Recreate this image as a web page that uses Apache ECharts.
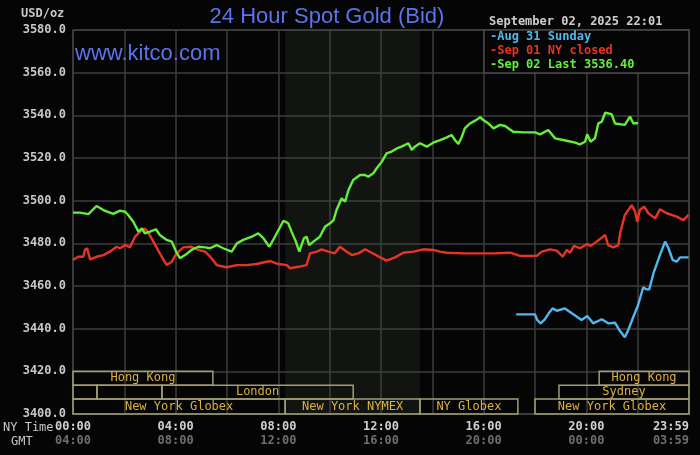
<!DOCTYPE html>
<html>
<head>
<meta charset="utf-8">
<script src="https://cdn.jsdelivr.net/npm/echarts@6/dist/echarts.min.js"></script>
<style>
  html, body { margin:0; padding:0; background:#050505; }
  #chart { width:700px; height:455px; }
</style>
</head>
<body>
<div id="chart"></div>
<script>
// minutes after NY midnight / bid price
var sep02Minutes = [0,16,36,55,71,94,110,122,129,141,153,161,168,180,194,203,219,231,241,250,262,277,293,309,320,336,351,371,383,398,418,433,445,459,472,492,503,511,521,529,540,546,552,562,577,589,601,609,616,628,636,644,655,671,683,690,702,710,722,733,745,757,768,784,792,799,811,827,842,858,874,885,893,901,909,916,928,940,952,959,971,983,998,1010,1029,1053,1080,1092,1111,1127,1154,1174,1185,1197,1202,1210,1220,1228,1236,1244,1259,1267,1290,1302,1310,1321];
var sep02Price = [3494.4,3494.4,3493.7,3497.5,3495.6,3493.8,3495.3,3494.8,3493.3,3490.1,3485.5,3487.0,3484.7,3485.5,3486.6,3483.9,3481.6,3480.8,3476.1,3473.0,3474.5,3476.9,3478.4,3478.1,3477.7,3479.2,3477.7,3476.1,3480.0,3481.6,3483.1,3484.7,3482.4,3478.4,3483.1,3490.6,3489.4,3485.5,3480.8,3476.1,3482.4,3483.1,3479.2,3480.8,3483.1,3487.8,3489.4,3490.9,3495.6,3501.1,3499.5,3505.0,3509.7,3512.0,3512.0,3511.2,3512.8,3515.2,3518.3,3522.2,3523.0,3524.5,3525.3,3526.9,3523.8,3525.3,3526.9,3525.3,3527.2,3528.4,3529.7,3530.8,3528.4,3526.6,3530.0,3533.9,3536.2,3537.5,3539.1,3537.8,3536.2,3533.9,3535.5,3535.0,3532.3,3532.0,3532.0,3531.1,3533.1,3529.2,3528.1,3527.2,3526.4,3527.6,3531.1,3527.6,3529.2,3536.2,3537.0,3541.2,3540.6,3536.2,3535.5,3539.4,3536.2,3536.4];

var sep01Minutes = [0,12,24,28,33,40,55,71,86,102,110,122,133,145,157,168,176,188,203,219,231,242,258,277,293,309,324,336,359,383,406,429,461,480,500,507,527,546,554,570,581,597,612,624,640,652,667,683,698,718,733,753,772,796,819,842,858,874,913,952,983,1022,1045,1084,1096,1115,1131,1145,1154,1162,1171,1185,1202,1210,1224,1244,1251,1263,1275,1279,1290,1306,1310,1314,1319,1325,1335,1345,1361,1372,1388,1411,1427,1439];
var sep01Price = [3472.2,3473.7,3473.7,3476.9,3477.7,3472.5,3473.7,3474.5,3476.1,3478.4,3477.7,3479.2,3478.1,3483.1,3485.5,3487.0,3485.0,3480.8,3475.3,3469.8,3471.4,3475.3,3478.1,3478.4,3476.9,3476.1,3473.0,3469.8,3468.8,3469.8,3469.8,3470.3,3471.7,3470.3,3469.8,3468.3,3469.0,3469.8,3475.3,3476.1,3477.2,3476.1,3475.3,3478.4,3476.1,3474.5,3475.3,3477.2,3475.6,3473.4,3471.9,3473.4,3475.6,3476.1,3477.2,3476.9,3476.1,3475.6,3475.3,3475.3,3475.3,3475.6,3474.1,3474.1,3476.1,3477.2,3476.6,3473.7,3476.9,3475.6,3478.8,3477.7,3479.7,3478.8,3480.8,3483.9,3479.2,3478.1,3479.2,3484.7,3493.3,3497.9,3498.4,3494.8,3490.1,3495.6,3497.2,3494.1,3491.7,3495.9,3494.1,3492.5,3490.9,3493.3];

var aug31Minutes = [1036,1080,1085,1093,1103,1113,1121,1131,1150,1166,1189,1202,1216,1236,1251,1267,1277,1290,1298,1310,1321,1333,1341,1347,1357,1372,1384,1392,1402,1411,1419,1439];
var aug31Price = [3446.7,3446.7,3444.1,3442.5,3444.4,3447.5,3449.5,3448.4,3449.5,3447.2,3444.1,3445.9,3442.5,3444.4,3442.5,3442.8,3439.4,3436.0,3439.4,3445.6,3451.1,3459.4,3458.4,3458.4,3466.0,3474.5,3480.8,3477.7,3472.2,3471.4,3473.4,3473.4];

// x axis tick labels (minutes -> NY / GMT)
var tickMinutes = [0,240,480,720,960,1200,1440];
var nyLabels  = ['00:00','04:00','08:00','12:00','16:00','20:00','23:59'];
var gmtLabels = ['04:00','08:00','12:00','16:00','20:00','00:00','03:59'];

// market sessions: row (0 top), start, end, name
var sessionRow   = [0,0,1,1,1,1,2,2,2,2];
var sessionStart = [0,1230,0,56,208,1136,0,496,811,1080];
var sessionEnd   = [327,1440,56,208,655,1440,496,811,1040,1440];
var sessionName  = ['Hong Kong','Hong Kong','','','London','Sydney','New York Globex','New York NYMEX','NY Globex','New York Globex'];
var rowTop = [3420,3413.5,3407];
var rowBottom = [3413.5,3407,3400];
var nymexPit = [496,811];

function zip(a,b){ return a.map(function(v,i){ return [v,b[i]]; }); }

var sessionData = sessionRow.map(function(r,i){
  return [sessionStart[i], sessionEnd[i], rowTop[r], rowBottom[r], sessionName[i]];
});

var mono = 'DejaVu Sans Mono';
var chart = echarts.init(document.getElementById('chart'));

chart.setOption({
  backgroundColor:'#050505',
  animation:false,
  grid:{left:73, right:11, top:30, bottom:41, outerBoundsMode:'none', containLabel:false,
    show:true, borderColor:'#4a4a4a', borderWidth:1.5},
  xAxis:{
    type:'value', min:0, max:1440, interval:120,
    axisLine:{show:false}, axisTick:{show:false},
    splitLine:{lineStyle:{color:'#3c3c3c', width:1.5}},
    axisLabel:{
      margin:6, alignMaxLabel:'right',
      formatter:function(v){
        var i = tickMinutes.indexOf(v);
        if(i < 0) return '';
        return '{a|'+nyLabels[i]+'}\n{b|'+gmtLabels[i]+'}';
      },
      rich:{
        a:{fontFamily:mono, fontWeight:'bold', fontSize:12, color:'#d0d0d0', lineHeight:14},
        b:{fontFamily:mono, fontWeight:'bold', fontSize:12, color:'#6e6e6e', lineHeight:14}
      }
    }
  },
  yAxis:{
    type:'value', min:3400, max:3580, interval:20,
    axisLine:{show:false}, axisTick:{show:false},
    splitLine:{lineStyle:{color:'#3c3c3c', width:1.5}},
    axisLabel:{margin:7, fontFamily:mono, fontWeight:'bold', fontSize:12, color:'#c8c8c8',
      formatter:function(v){ return v.toFixed(1); }}
  },
  graphic:[
    {type:'text', x:327, y:17, style:{text:'24 Hour Spot Gold (Bid)', fontFamily:'Liberation Sans', fontSize:22, fill:'#5a74ee', textAlign:'center', textVerticalAlign:'middle'}},
    {type:'text', x:75, y:54, z:20, style:{text:'www.kitco.com', fontFamily:'Liberation Sans', fontSize:22, fill:'#5a74ee', textVerticalAlign:'middle'}},
    {type:'text', x:21, y:14, style:{text:'USD/oz', fontFamily:mono, fontWeight:'bold', fontSize:12, fill:'#c8c8c8', textVerticalAlign:'middle'}},
    {type:'text', x:489, y:22, style:{text:'September 02, 2025 22:01', fontFamily:mono, fontWeight:'bold', fontSize:12, fill:'#cfcfcf', textVerticalAlign:'middle'}},
    {type:'rect', x:484, y:30, z:20, shape:{width:205, height:43}, style:{fill:'#050505', stroke:'#4a4a4a', lineWidth:1.5}},
    {type:'text', x:490, y:37, z:21, style:{text:'-Aug 31 Sunday', fontFamily:mono, fontWeight:'bold', fontSize:12, fill:'#50b8ee', textVerticalAlign:'middle'}},
    {type:'text', x:490, y:51, z:21, style:{text:'-Sep 01 NY closed', fontFamily:mono, fontWeight:'bold', fontSize:12, fill:'#e83424', textVerticalAlign:'middle'}},
    {type:'text', x:490, y:65, z:21, style:{text:'-Sep 02 Last 3536.40', fontFamily:mono, fontWeight:'bold', fontSize:12, fill:'#66ee3c', textVerticalAlign:'middle'}},
    {type:'text', x:3, y:428, style:{text:'NY Time', fontFamily:mono, fontSize:12, fill:'#c8c8c8', textVerticalAlign:'middle'}},
    {type:'text', x:11, y:442, style:{text:'GMT', fontFamily:mono, fontSize:12, fill:'#c8c8c8', textVerticalAlign:'middle'}}
  ],
  series:[
    {type:'line', data:[], z:1, silent:true,
      markArea:{silent:true, itemStyle:{color:'rgba(70,80,70,0.2)'},
        data:[[{xAxis:nymexPit[0]},{xAxis:nymexPit[1]}]]}},
    {type:'custom', z:3, silent:true, data:sessionData,
      renderItem:function(params, api){
        var p0 = api.coord([api.value(0), api.value(2)]);
        var p1 = api.coord([api.value(1), api.value(3)]);
        var name = sessionData[params.dataIndex][4];
        return {type:'group', children:[
          {type:'rect', shape:{x:p0[0], y:p0[1], width:p1[0]-p0[0], height:p1[1]-p0[1]},
            style:{fill:'none', stroke:'#a09e74', lineWidth:1.5}},
          {type:'text', x:(p0[0]+p1[0])/2, y:(p0[1]+p1[1])/2,
            style:{text:name, fontFamily:mono, fontSize:12, fill:'#dcb23e', textAlign:'center', textVerticalAlign:'middle'}}
        ]};
      }},
    {name:'Sep 01', type:'line', z:5, data:zip(sep01Minutes, sep01Price), showSymbol:false,
      lineStyle:{color:'#e83424', width:2.4}},
    {name:'Sep 02', type:'line', z:6, data:zip(sep02Minutes, sep02Price), showSymbol:false,
      lineStyle:{color:'#66ee3c', width:2.4}},
    {name:'Aug 31', type:'line', z:7, data:zip(aug31Minutes, aug31Price), showSymbol:false,
      lineStyle:{color:'#50b8ee', width:2.4}}
  ]
});
</script>
</body>
</html>
